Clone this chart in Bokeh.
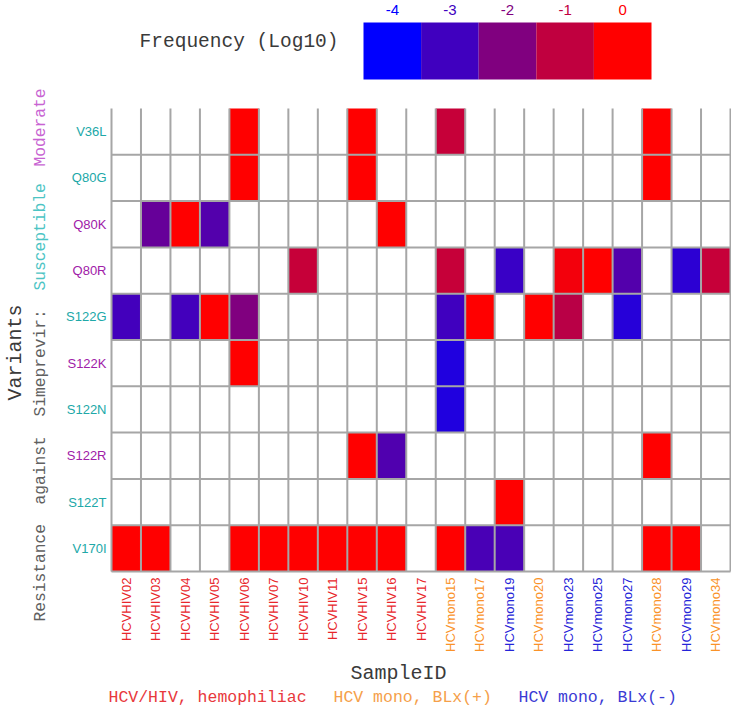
import numpy as np
from bokeh.plotting import figure
from bokeh.models import Range1d, ColumnDataSource, LinearColorMapper
from bokeh.transform import transform
from bokeh.core.properties import value
from bokeh.embed import file_html
from bokeh.resources import INLINE

# ---------------- data ----------------
samples = ["HCVHIV02", "HCVHIV03", "HCVHIV04", "HCVHIV05", "HCVHIV06", "HCVHIV07",
           "HCVHIV10", "HCVHIV11", "HCVHIV15", "HCVHIV16", "HCVHIV17",
           "HCVmono15", "HCVmono17", "HCVmono19", "HCVmono20", "HCVmono23",
           "HCVmono25", "HCVmono27", "HCVmono28", "HCVmono29", "HCVmono34"]
sample_group = ["hiv"] * 11 + ["blx+", "blx+", "blx-", "blx+", "blx-",
                               "blx-", "blx-", "blx+", "blx-", "blx+"]
variants = ["V36L", "Q80G", "Q80K", "Q80R", "S122G", "S122K", "S122N", "S122R", "S122T", "V170I"]
variant_class = ["susceptible", "susceptible", "moderate", "moderate", "susceptible",
                 "moderate", "susceptible", "moderate", "susceptible", "susceptible"]

N = None
# log10 frequency per sample (columns in the order of `samples`), None = not detected
V36L  = [N, N, N, N, 0, N, N, N, 0, N, N, -0.9, N, N, N, N, N, N, 0, N, N]
Q80G  = [N, N, N, N, 0, N, N, N, 0, N, N, N, N, N, N, N, N, N, 0, N, N]
Q80K  = [N, -2.4, 0, -2.7, N, N, N, N, N, 0, N, N, N, N, N, N, N, N, N, N, N]
Q80R  = [N, N, N, N, N, N, -0.9, N, N, N, N, -0.9, N, -3.1, N, -0.2, 0, -2.7, N, -3.3, -0.9]
S122G = [-2.95, N, -2.95, 0, -2.0, N, N, N, N, N, N, -3.0, 0, N, 0, -1.1, N, -3.4, N, N, N]
S122K = [N, N, N, N, 0, N, N, N, N, N, N, -3.5, N, N, N, N, N, N, N, N, N]
S122N = [N, N, N, N, N, N, N, N, N, N, N, -3.5, N, N, N, N, N, N, N, N, N]
S122R = [N, N, N, N, N, N, N, N, 0, -2.75, N, N, N, N, N, N, N, N, 0, N, N]
S122T = [N, N, N, N, N, N, N, N, N, N, N, N, N, 0, N, N, N, N, N, N, N]
V170I = [0, 0, N, N, 0, 0, 0, 0, 0, 0, N, 0, -2.85, -2.85, N, N, N, N, 0, 0, N]
freq_rows = [V36L, Q80G, Q80K, Q80R, S122G, S122K, S122N, S122R, S122T, V170I]

legend_ticks = [-4, -3, -2, -1, 0]
legend_labels = ["-4", "-3", "-2", "-1", "0"]
group_labels = ["HCV/HIV, hemophiliac", "HCV mono, BLx(+)", "HCV mono, BLx(-)"]
ytitle_words = ["Resistance", "against", "Simeprevir:", "Susceptible", "Moderate"]

# ---------------- styling / layout ----------------
FW, FH = 731, 708          # figure size (page origin at 0,0)
PX0, PY0 = 0, 0
PX1, PY1 = PX0 + FW, PY0 + FH
GX0, GX1, GY0, GY1 = 111, 730, 108, 571   # grid frame in page pixels
ncol, nrow = len(samples), len(variants)
CW = (GX1 - GX0) / ncol
RH = (GY1 - GY0) / nrow

# legend bar geometry
LBX0, LBW = 363, 57.6
leg_start = legend_ticks[0] - 0.5 - (LBX0 - PX0) / LBW
leg_end = legend_ticks[0] - 0.5 + (PX1 - LBX0) / LBW

r_vals = np.round(np.linspace(0, 255, 256)).astype(int)
palette = ["#%02x00%02x" % (r, 255 - r) for r in r_vals]
mapper = LinearColorMapper(palette=palette, low=-4, high=0, nan_color="white")

def pal_color(v):
    return palette[min(255, int((v + 4) / 4 * 256))]

p = figure(width=FW, height=FH, output_backend="svg", toolbar_location=None,
           x_axis_location=None, y_axis_location=None, min_border=0,
           x_range=Range1d(-(GX0 - PX0) / CW, ncol + (PX1 - GX1) / CW),
           y_range=Range1d(nrow + (PY1 - GY1) / RH, -(GY0 - PY0) / RH),
           outline_line_color=None, background_fill_color="white",
           border_fill_color="white")
p.grid.visible = False
p.extra_x_ranges = {"px": Range1d(PX0, PX1), "leg": Range1d(leg_start, leg_end)}
p.extra_y_ranges = {"py": Range1d(PY1, PY0)}

# cells
xs, ys, vs = [], [], []
for j, row in enumerate(freq_rows):
    for i, v in enumerate(row):
        xs.append(i + 0.5)
        ys.append(j + 0.5)
        vs.append(np.nan if v is None else float(v))
cells = ColumnDataSource(dict(x=xs, y=ys, v=np.array(vs)))
p.rect(x="x", y="y", width=1, height=1, source=cells,
       fill_color=transform("v", mapper), line_color=None)

# grid lines (no top border in the reference)
gcol = "#a6a6a6"
vx = list(range(ncol + 1))
p.segment(x0=vx, y0=[0] * len(vx), x1=vx, y1=[nrow] * len(vx), line_color=gcol, line_width=2)
hy = list(range(1, nrow + 1))
p.segment(x0=[0] * len(hy), y0=hy, x1=[ncol] * len(hy), y1=hy, line_color=gcol, line_width=2)

# colour legend
p.rect(x=legend_ticks, y=[50.5] * 5, width=1, height=57, x_range_name="leg", y_range_name="py",
       fill_color=[pal_color(v) for v in legend_ticks], line_color=None)
p.text(x=legend_ticks, y=[9] * 5, text=legend_labels, x_range_name="leg", y_range_name="py",
       text_color=[pal_color(v) for v in legend_ticks], text_align="center",
       text_baseline="middle", text_font=value("Liberation Sans"), text_font_size="15px")
p.text(x=[338], y=[41], text=["Frequency (Log10)"], x_range_name="px", y_range_name="py",
       text_color="#3a3a3a", text_align="right", text_baseline="middle",
       text_font=value("Liberation Mono"), text_font_size="19.5px")

# y tick labels
ycol = {"susceptible": "#20a8a8", "moderate": "#a020a8"}
p.text(x=[106] * nrow, y=[j + 0.5 for j in range(nrow)], text=variants,
       x_range_name="px", text_color=[ycol[c] for c in variant_class],
       text_align="right", text_baseline="middle",
       text_font=value("Liberation Sans"), text_font_size="13px")

# x tick labels
xcol = {"hiv": "#e8262b", "blx+": "#fa9228", "blx-": "#2424d8"}
p.text(x=[i + 0.5 for i in range(ncol)], y=[577] * ncol, text=samples, y_range_name="py",
       angle=np.pi / 2, text_color=[xcol[g] for g in sample_group],
       text_align="right", text_baseline="middle",
       text_font=value("Liberation Sans"), text_font_size="13px")

# axis titles
p.text(x=[398], y=[673], text=["SampleID"], x_range_name="px", y_range_name="py",
       text_color="#3a3a3a", text_align="center", text_baseline="middle",
       text_font=value("Liberation Mono"), text_font_size="20px")
p.text(x=[15], y=[352], text=["Variants"], x_range_name="px", y_range_name="py", angle=np.pi / 2,
       text_color="#3a3a3a", text_align="center", text_baseline="middle",
       text_font=value("Liberation Mono"), text_font_size="20px")
p.text(x=[40] * 5, y=[621, 504, 416, 290, 166], text=ytitle_words,
       x_range_name="px", y_range_name="py", angle=np.pi / 2,
       text_color=["#606060", "#606060", "#606060", "#4cc4c4", "#c864d2"],
       text_align="left", text_baseline="middle",
       text_font=value("Liberation Mono"), text_font_size="16.25px")

# group legend at bottom
p.text(x=[108, 333, 518], y=[697] * 3, text=group_labels, x_range_name="px", y_range_name="py",
       text_color=["#e8383c", "#f5a04a", "#3a3ad4"], text_align="left", text_baseline="middle",
       text_font=value("Liberation Mono"), text_font_size="16.5px")

open("out.html", "w").write(file_html(p, INLINE))
